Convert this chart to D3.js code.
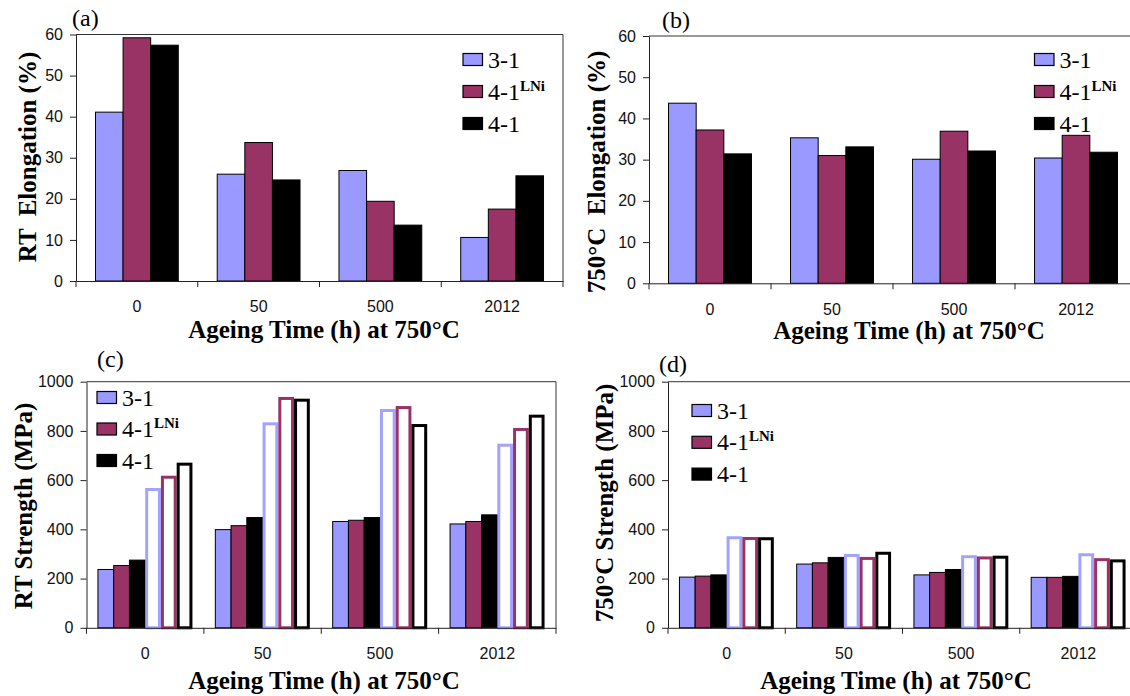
<!DOCTYPE html>
<html>
<head>
<meta charset="utf-8">
<script src="https://cdn.jsdelivr.net/npm/d3@7"></script>
<style>
  body { margin: 0; background: #fff; }
  svg { display: block; }
</style>
</head>
<body>
<div id="chart"></div>
<script>
// categories and series
const categories = ["0", "50", "500", "2012"];
const series = ["3-1", "4-1LNi", "4-1"];
const seriesColors = ["#9999ff", "#993366", "#000000"];

// (a) RT elongation (%)
const rtElong31 = [41.1, 26.0, 26.9, 10.6];
const rtElongLNi = [59.2, 33.7, 19.4, 17.5];
const rtElong41 = [57.4, 24.6, 13.6, 25.6];

// (b) 750°C elongation (%)
const htElong31 = [43.7, 35.3, 30.1, 30.4];
const htElongLNi = [37.2, 31.0, 36.9, 35.9];
const htElong41 = [31.4, 33.1, 32.1, 31.8];

// (c) RT strength (MPa): filled = yield, outlined = tensile
const rtYs31 = [237, 399, 432, 422];
const rtYsLNi = [253, 415, 437, 432];
const rtYs41 = [275, 448, 448, 459];
const rtUts31 = [568, 835, 889, 748];
const rtUtsLNi = [618, 938, 901, 812];
const rtUts41 = [671, 931, 828, 866];

// (d) 750°C strength (MPa)
const htYs31 = [206, 259, 215, 205];
const htYsLNi = [210, 264, 225, 205];
const htYs41 = [215, 286, 237, 209];
const htUts31 = [372, 300, 295, 303];
const htUtsLNi = [369, 288, 290, 283];
const htUts41 = [368, 309, 293, 278];

const elongTicks = [0, 10, 20, 30, 40, 50, 60];
const strengthTicks = [0, 200, 400, 600, 800, 1000];

const serif = "Liberation Serif";
const sans = "Liberation Sans";

const svg = d3.select("#chart").append("svg")
    .attr("width", 1130)
    .attr("height", 696);

const panels = [
  { label: "(a)", labelX: 72, labelY: 26,
    left: 76, right: 563, top: 34.5, bottom: 281, ticks: elongTicks, groupFrac: 0.68,
    filled: [rtElong31, rtElongLNi, rtElong41], outlined: null,
    yTitle: "RT  Elongation (%)", yTitleX: 36, yTitleY: 157,
    xTitleX: 324, xTitleY: 338, legX: 463, legY: 53.5, legDy: 32 },
  { label: "(b)", labelX: 662, labelY: 28,
    left: 649, right: 1137, top: 36, bottom: 283.3, ticks: elongTicks, groupFrac: 0.68,
    filled: [htElong31, htElongLNi, htElong41], outlined: null,
    yTitle: "750°C  Elongation (%)", yTitleX: 605, yTitleY: 172,
    xTitleX: 909, xTitleY: 339, legX: 1034.5, legY: 53.5, legDy: 32 },
  { label: "(c)", labelX: 97, labelY: 367,
    left: 86.5, right: 556, top: 381.7, bottom: 627.8, ticks: strengthTicks, groupFrac: 0.805,
    filled: [rtYs31, rtYsLNi, rtYs41], outlined: [rtUts31, rtUtsLNi, rtUts41],
    yTitle: "RT Strength (MPa)", yTitleX: 32, yTitleY: 506,
    xTitleX: 324, xTitleY: 689, legX: 97, legY: 391.5, legDy: 31.5 },
  { label: "(d)", labelX: 659, labelY: 372,
    left: 668, right: 1137, top: 381.7, bottom: 627.8, ticks: strengthTicks, groupFrac: 0.805,
    filled: [htYs31, htYsLNi, htYs41], outlined: [htUts31, htUtsLNi, htUts41],
    yTitle: "750°C Strength (MPa)", yTitleX: 613, yTitleY: 503,
    xTitleX: 896, xTitleY: 689, legX: 692, legY: 404.5, legDy: 31.8 }
];

panels.forEach(p => {
  const g = svg.append("g");

  const x0 = d3.scaleBand().domain(categories).range([p.left, p.right]);
  const nSlots = p.outlined ? 6 : 3;
  const groupW = x0.bandwidth() * p.groupFrac;
  const x1 = d3.scaleBand().domain(d3.range(nSlots)).range([0, groupW]);
  const off = (x0.bandwidth() - groupW) / 2;

  const y = d3.scaleLinear()
      .domain([0, d3.max(p.ticks)])
      .range([p.bottom, p.top]);

  // frame (top + right)
  g.append("path")
      .attr("d", `M${p.left},${p.top}H${p.right}V${p.bottom}`)
      .attr("fill", "none")
      .attr("stroke", "#333")
      .attr("stroke-width", 1);

  // filled bars
  p.filled.forEach((vals, si) => {
    g.selectAll(null)
      .data(vals)
      .enter()
      .append("rect")
      .attr("x", (d, i) => x0(categories[i]) + off + x1(si))
      .attr("y", d => y(d))
      .attr("width", x1.bandwidth())
      .attr("height", d => y(0) - y(d))
      .attr("fill", seriesColors[si])
      .attr("stroke", "#000")
      .attr("stroke-width", 1);
  });

  // outlined bars
  if (p.outlined) {
    p.outlined.forEach((vals, si) => {
      g.selectAll(null)
        .data(vals)
        .enter()
        .append("rect")
        .attr("x", (d, i) => x0(categories[i]) + off + x1(si + 3) + 1.5)
        .attr("y", d => y(d) + 1.5)
        .attr("width", x1.bandwidth() - 3)
        .attr("height", d => y(0) - y(d) - 1.5)
        .attr("fill", "#fff")
        .attr("stroke", seriesColors[si])
        .attr("stroke-opacity", si === 0 ? 0.9 : 1)
        .attr("stroke-width", 3);
    });
  }

  // y axis
  const yAxis = g.append("g")
      .attr("transform", `translate(${p.left},0)`)
      .call(d3.axisLeft(y).tickValues(p.ticks).tickFormat(d3.format("d"))
        .tickSize(6).tickPadding(7).tickSizeOuter(0));
  yAxis.select(".domain").attr("stroke", "#222");
  yAxis.selectAll(".tick line").attr("stroke", "#222");
  yAxis.selectAll("text")
      .attr("font-family", sans)
      .attr("font-size", 16)
      .attr("fill", "#111");

  // x axis
  const xAxis = g.append("g")
      .attr("transform", `translate(0,${p.bottom})`)
      .call(d3.axisBottom(x0).tickSize(0).tickPadding(20));
  xAxis.select(".domain").attr("stroke", "#222");
  xAxis.selectAll("text")
      .attr("font-family", sans)
      .attr("font-size", 16)
      .attr("fill", "#111");

  // category boundary ticks
  const bounds = [x0(categories[0])].concat(categories.map(c => x0(c) + x0.bandwidth()));
  g.selectAll(null)
    .data(bounds)
    .enter()
    .append("line")
    .attr("x1", d => d).attr("x2", d => d)
    .attr("y1", p.bottom).attr("y2", p.bottom + 6)
    .attr("stroke", "#222");

  // panel label
  g.append("text")
      .attr("x", p.labelX)
      .attr("y", p.labelY)
      .attr("font-family", serif)
      .attr("font-size", 24)
      .text(p.label);

  // y title
  g.append("text")
      .attr("transform", `translate(${p.yTitleX},${p.yTitleY}) rotate(-90)`)
      .attr("text-anchor", "middle")
      .attr("font-family", serif)
      .attr("font-size", 25)
      .attr("font-weight", "bold")
      .style("white-space", "pre")
      .text(p.yTitle);

  // x title
  g.append("text")
      .attr("x", p.xTitleX)
      .attr("y", p.xTitleY)
      .attr("text-anchor", "middle")
      .attr("font-family", serif)
      .attr("font-size", 25)
      .attr("font-weight", "bold")
      .text("Ageing Time (h) at 750°C");

  // legend
  const leg = g.selectAll(null)
      .data(series)
      .enter()
      .append("g")
      .attr("transform", (d, i) => `translate(${p.legX},${p.legY + i * p.legDy})`);
  leg.append("rect")
      .attr("width", 19.5)
      .attr("height", 12)
      .attr("fill", (d, i) => seriesColors[i])
      .attr("stroke", "#000")
      .attr("stroke-width", 1.2);
  const lt = leg.append("text")
      .attr("x", 25)
      .attr("y", 14)
      .attr("font-family", serif)
      .attr("font-size", 24);
  lt.append("tspan").text(d => d === "4-1LNi" ? "4-1" : d);
  lt.filter(d => d === "4-1LNi")
    .append("tspan")
      .attr("dy", -9)
      .attr("font-size", 15)
      .attr("font-weight", "bold")
      .text("LNi");
});
</script>
</body>
</html>
